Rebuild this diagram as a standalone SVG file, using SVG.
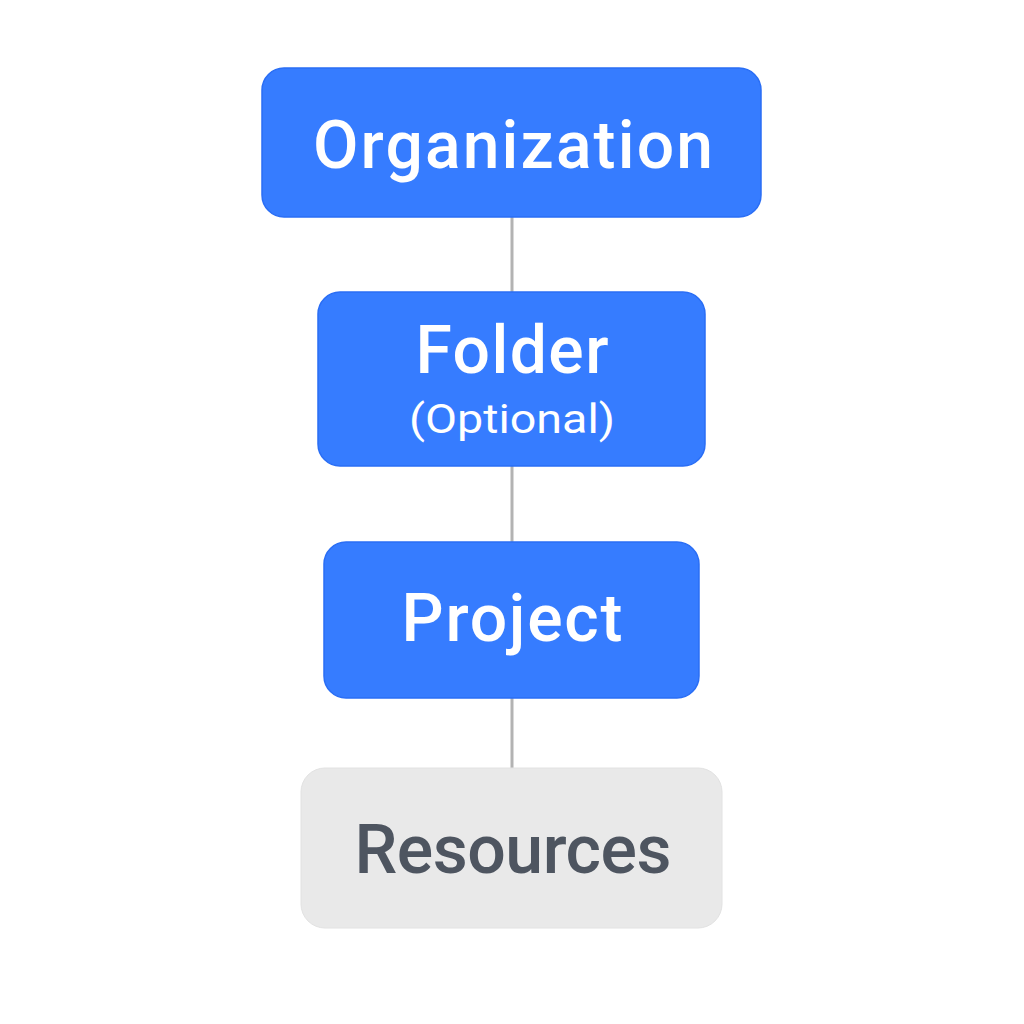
<svg xmlns="http://www.w3.org/2000/svg" width="1024" height="1024" viewBox="0 0 1024 1024">
<style>
.blue{fill:#367cff;stroke:#2a6ef5;stroke-width:1.5}
.gray{fill:#e9e9e9;stroke:#e2e2e2;stroke-width:1}
.t{font-family:Roboto,"Open Sans",sans-serif;text-anchor:middle}
.w{fill:#ffffff;font-weight:500}
.d{fill:#4e5560;font-weight:500}
.line{stroke:#b3b3b3;stroke-width:3;fill:none}
</style>
<rect width="1024" height="1024" fill="#ffffff"/>
<g id="connectors">
<line class="line" x1="512" y1="217" x2="512" y2="292"/>
<line class="line" x1="512" y1="466" x2="512" y2="542"/>
<line class="line" x1="512" y1="698" x2="512" y2="768"/>
</g>
<g id="organization">
<rect class="blue" x="262" y="68" width="499" height="149" rx="22"/>
<text class="t w" x="513" y="168" font-size="66" textLength="400" lengthAdjust="spacing">Organization</text>
</g>
<g id="folder">
<rect class="blue" x="318" y="292" width="387" height="174" rx="22"/>
<text class="t w" x="512" y="373" font-size="66" textLength="193" lengthAdjust="spacing">Folder</text>
<text class="t w" x="512" y="433" font-size="40" font-weight="400" style="font-weight:400" textLength="206" lengthAdjust="spacingAndGlyphs">(Optional)</text>
</g>
<g id="project">
<rect class="blue" x="324" y="542" width="375" height="156" rx="22"/>
<text class="t w" x="512" y="641" font-size="66" textLength="221" lengthAdjust="spacing">Project</text>
</g>
<g id="resources">
<rect class="gray" x="301" y="768" width="421" height="160" rx="24"/>
<text class="t d" x="513" y="873" font-size="68" textLength="317" lengthAdjust="spacing">Resources</text>
</g>
</svg>
